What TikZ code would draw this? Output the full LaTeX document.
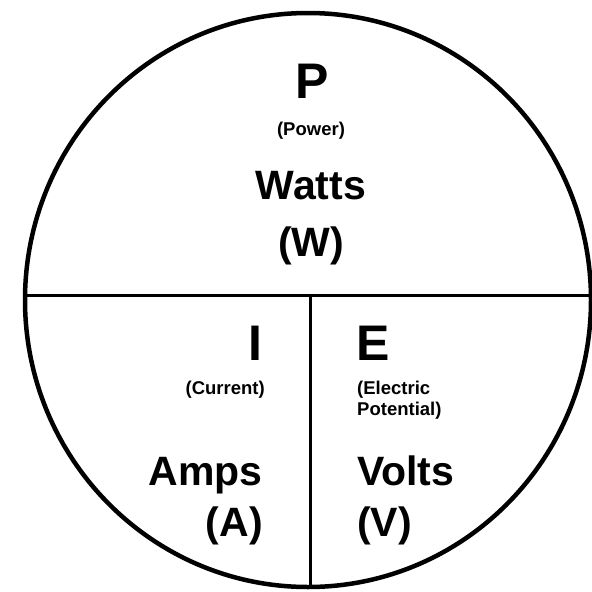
\documentclass[tikz,border=0pt]{standalone}
\usepackage{fontspec}
\setmainfont{Liberation Sans}
\usetikzlibrary{positioning}

\begin{document}
\begin{tikzpicture}[x=1pt,y=-1pt,
  sym/.style={inner sep=0pt,font=\fontsize{50}{50}\selectfont\bfseries},
  unit/.style={inner sep=0pt,font=\fontsize{41}{44}\selectfont\bfseries},
  note/.style={inner sep=0pt,font=\fontsize{18.5}{21}\selectfont\bfseries},
  wire/.style={black,line width=3pt}
]
\useasboundingbox (0,0) rectangle (592,592);
% outer circle
\draw[line width=4.5pt] (308,300) ellipse [x radius=283,y radius=287];
\coordinate (lft) at (25,295);
\coordinate (rgt) at (591,295);
\coordinate (mid) at (310,295);
\coordinate (bot) at (310,587);
\draw[wire] (lft) -- (rgt);
\draw[wire] (mid) -- (bot);
% top half
\node[sym,anchor=base]  (p)     at (312,98)  {P};
\node[note,anchor=base] (power) at (311,135) {(Power)};
\node[unit,anchor=base] (watts) at (311,199) {Watts};
\node[unit,anchor=base] (w)     at (311,256) {(W)};
% left part
\node[sym,anchor=base east]  (i)    at (263,360) {I};
\node[note,anchor=base east] (curr) at (265,394) {(Current)};
\node[unit,anchor=base east] (amps) at (263,485) {Amps};
\node[unit,anchor=base east] (a)    at (263,536) {(A)};
% right part
\node[sym,anchor=base west]  (e)     at (356,360) {E};
\node[note,anchor=base west] (elec)  at (357,394) {(Electric};
\node[note,anchor=base west] (pot)   at (357,415) {Potential)};
\node[unit,anchor=base west] (volts) at (357,485) {Volts};
\node[unit,anchor=base west] (v)     at (357,536) {(V)};
\end{tikzpicture}
\end{document}
